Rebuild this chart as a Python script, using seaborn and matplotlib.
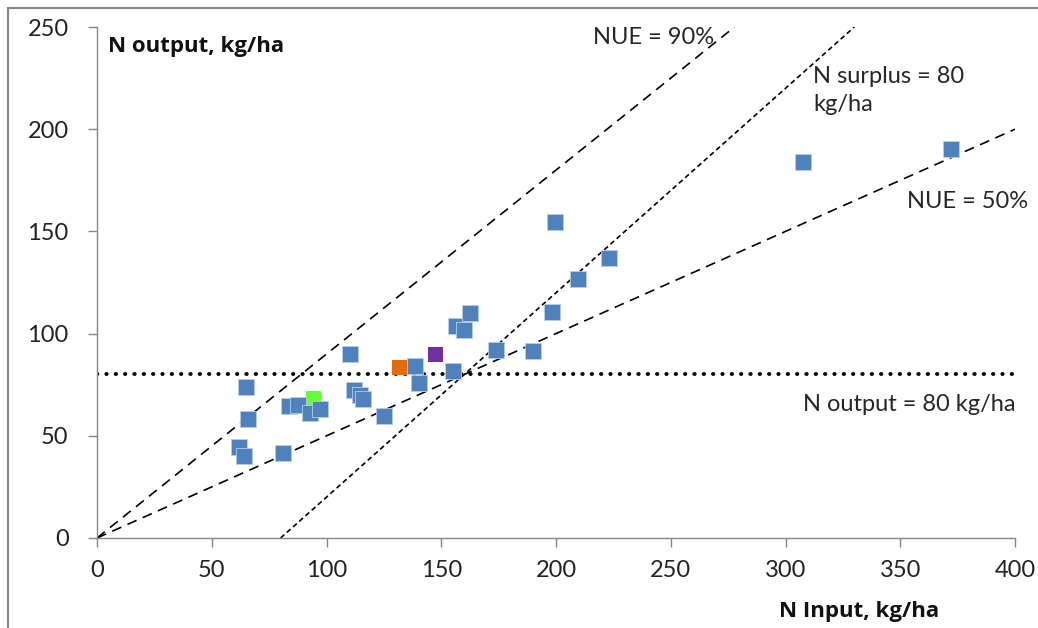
import numpy as np
import pandas as pd
import seaborn as sns
import matplotlib
matplotlib.use("Agg")
from matplotlib import pyplot as plt
from matplotlib.patches import Rectangle

# farm data (N input, N output in kg/ha)
n_input = [61.9, 64.2, 64.9, 65.8, 81.2, 83.8, 87.4, 92.8, 97.2, 110.1,
           112.1, 114.6, 116.1, 124.9, 138.6, 140.3, 155.0, 156.4, 160.0, 162.5,
           174.0, 190.1, 198.4, 199.6, 209.8, 223.1, 307.6, 372.1]
n_output = [44.4, 40.1, 73.9, 58.2, 41.4, 64.6, 65.1, 61.0, 63.1, 90.0,
            72.4, 70.0, 68.0, 59.8, 84.3, 76.0, 81.8, 103.9, 101.8, 109.9,
            92.0, 91.5, 110.4, 154.4, 126.7, 136.8, 184.0, 190.3]

# highlighted farms
hl_input = [94.3, 131.7, 147.4]
hl_output = [68.0, 83.5, 89.9]
hl_names = ["green", "orange", "purple"]
hl_colors = ["#66FF33", "#E36C09", "#7030A0"]

# reference lines
nue_high = 0.9
nue_low = 0.5
n_surplus = 80
n_out_limit = 80

x_ticks = [0, 50, 100, 150, 200, 250, 300, 350, 400]
y_ticks = [0, 50, 100, 150, 200, 250]

sns.set_theme(style="white")
plt.rcParams["font.family"] = ["Lato", "DejaVu Sans"]
FS = 17

fig = plt.figure(figsize=(10.38, 6.28), dpi=100)
ax = fig.add_axes([97 / 1038, 1 - 538 / 628, (1015 - 97) / 1038, (538 - 27) / 628])

grey = "#868686"
# reference lines
x90 = np.array([0, 250 / nue_high])
ax.plot(x90, nue_high * x90, color="black", lw=1.2, dashes=(6, 4), zorder=1)
x50 = np.array([0, 400])
ax.plot(x50, nue_low * x50, color="black", lw=1.2, dashes=(6, 4), zorder=1)
xs = np.array([n_surplus, 250 + n_surplus])
ax.plot(xs, xs - n_surplus, color="black", lw=1.2, dashes=(3, 2), zorder=1)
ax.plot([0, 400], [n_out_limit, n_out_limit], color="black", lw=2.8,
        dashes=(0.1, 2.3), dash_capstyle="round", zorder=1)

df = pd.DataFrame({"input": n_input, "output": n_output})
hl = pd.DataFrame({"input": hl_input, "output": hl_output, "farm": hl_names})

ax.scatter(hl["input"][:1], hl["output"][:1], marker="s", s=120,
           color=hl_colors[0], edgecolor="none", zorder=2)
sns.scatterplot(data=df, x="input", y="output", marker="s", s=120,
                color="#4F81BD", edgecolor="#B9CDE5", linewidth=0.6,
                ax=ax, zorder=3)
sns.scatterplot(data=hl.iloc[1:], x="input", y="output", hue="farm",
                palette=hl_colors[1:], marker="s", s=120, edgecolor="none",
                legend=False, ax=ax, zorder=4)

ax.set_xlim(0, 400)
ax.set_ylim(0, 250)
ax.set_xticks(x_ticks)
ax.set_yticks(y_ticks)
ax.set_xlabel("")
ax.set_ylabel("")
for s in ["top", "right"]:
    ax.spines[s].set_visible(False)
for s in ["left", "bottom"]:
    ax.spines[s].set_color(grey)
    ax.spines[s].set_linewidth(1)
ax.tick_params(axis="both", direction="out", length=6.5, width=1, color=grey,
               labelsize=FS, labelcolor="#222222")
ax.tick_params(axis="y", pad=14, left=True)
ax.tick_params(axis="x", pad=9, bottom=True)

bold = ["Open Sans", "DejaVu Sans"]
ax.text(0.012, 0.962, "N output, kg/ha", transform=ax.transAxes, fontsize=16,
        family=bold, fontweight="bold", va="center", ha="left", color="#111111")
fig.text(859 / 1038, 1 - 612 / 628, "N Input, kg/ha", fontsize=16,
         family=bold, fontweight="bold", ha="center", va="center", color="#111111")

ax.text(216, 245, "NUE = 90%", fontsize=FS, va="center", ha="left")
ax.text(312, 219, "N surplus = 80\nkg/ha", fontsize=FS, va="center", ha="left",
        linespacing=1.45)
ax.text(353, 164.5, "NUE = 50%", fontsize=FS, va="center", ha="left")
ax.text(307.5, 65.5, "N output = 80 kg/ha", fontsize=FS, va="center", ha="left")

fig.patches.append(Rectangle((8 / 1038, -0.1), 1.2, 1.1 - 8 / 628,
                             transform=fig.transFigure, fill=False,
                             edgecolor=grey, lw=1.5))

fig.savefig("out.png", dpi=100)
